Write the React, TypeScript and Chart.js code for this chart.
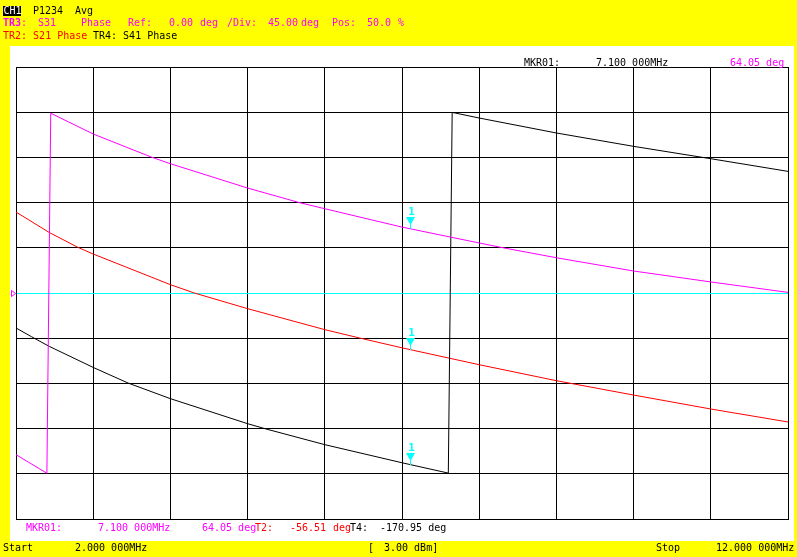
import React, { useEffect, useRef } from "react";
import { Chart, registerables } from "chart.js";

Chart.register(...registerables);

// ---- data ----
const FREQ_START = 2;
const FREQ_STOP = 12;
const PHASE_MIN = -225;
const PHASE_MAX = 225;
const PHASE_DIV = 45;

// TR3: S31 phase (magenta)
const S31_FREQ = [2.0, 2.4, 2.45, 3, 3.75, 4, 5, 5.67, 6, 7, 8, 8.31, 9, 10, 11, 12];
const S31_PHASE = [-161, -179.4, 179.0, 158.3, 135.4, 128.7, 104.5, 90.0, 83.9, 65.6, 49.8, 45.0, 35.1, 21.9, 11.0, 0.6];

// TR2: S21 phase (red)
const S21_FREQ = [2, 2.43, 2.8, 3, 4, 4.31, 5, 6, 6.45, 7, 8, 9, 10, 11, 12];
const S21_PHASE = [80.6, 60.3, 45.5, 38.8, 8.3, 0, -15.6, -36.5, -44.8, -54.6, -71.4, -87.3, -101.6, -115.5, -128.4];

// TR4: S41 phase (black)
const S41_FREQ = [2, 2.2, 2.43, 3, 3.45, 4, 5, 5.24, 6, 7, 7.6, 7.65, 8, 9, 10, 11, 12];
const S41_PHASE = [-34.8, -43.5, -53.1, -74.1, -89.6, -105.2, -130.1, -135.4, -151, -169, -179.3, 179.8, 174.2, 159.3, 146, 133.7, 121.1];

// marker 1
const MARKER_FREQ = 7.1;
const MARKER_VALUES = [64.05, -56.51, -170.95];
const REF_VALUE = 0;

const FONT = '"DejaVu Sans Mono", monospace';

function toXY(xs: number[], ys: number[]) {
  return xs.map((x, i) => ({ x, y: ys[i] }));
}

function Txt(props: { x: number; cy: number; color?: string; bold?: boolean; children: React.ReactNode }) {
  const { x, cy, color = "#000", bold = false, children } = props;
  return (
    <span
      style={{
        position: "absolute",
        left: x,
        top: cy - 5,
        font: `${bold ? "bold " : ""}10px ${FONT}`,
        lineHeight: "10px",
        color,
        whiteSpace: "pre",
      }}
    >
      {children}
    </span>
  );
}

const MAG = "#FF00FF";
const RED = "#FF0000";
const BLK = "#000000";
const CYAN = "#00FFFF";

export default function App() {
  const ref = useRef<HTMLCanvasElement | null>(null);

  useEffect(() => {
    if (!ref.current) return;
    const bgPlugin = {
      id: "bg",
      beforeDraw(chart: any) {
        const ctx = chart.ctx;
        ctx.save();
        ctx.fillStyle = "#FFFF00";
        ctx.fillRect(0, 0, chart.width, chart.height);
        ctx.fillStyle = "#FFFFFF";
        ctx.fillRect(10, 46, 784, 495);
        ctx.restore();
      },
    };
    const markerPlugin = {
      id: "markers",
      afterDatasetsDraw(chart: any) {
        const ctx = chart.ctx;
        const xs = chart.scales.x;
        const ys = chart.scales.y;
        ctx.save();
        const px = Math.round(xs.getPixelForValue(MARKER_FREQ)) + 0.5;
        MARKER_VALUES.forEach((v) => {
          const py = Math.round(ys.getPixelForValue(v));
          ctx.strokeStyle = CYAN;
          ctx.fillStyle = CYAN;
          ctx.lineWidth = 1;
          ctx.beginPath();
          ctx.moveTo(px, py - 5);
          ctx.lineTo(px, py);
          ctx.stroke();
          ctx.beginPath();
          ctx.moveTo(px - 4.5, py - 12);
          ctx.lineTo(px + 4.5, py - 12);
          ctx.lineTo(px, py - 4);
          ctx.closePath();
          ctx.fill();
          ctx.font = `bold 11px ${FONT}`;
          ctx.textAlign = "center";
          ctx.textBaseline = "alphabetic";
          ctx.fillText("1", px + 1, py - 14);
        });
        // reference position marker (left)
        const ry = Math.round(ys.getPixelForValue(REF_VALUE)) + 0.5;
        ctx.strokeStyle = MAG;
        ctx.beginPath();
        ctx.moveTo(11.5, ry - 3);
        ctx.lineTo(15.5, ry);
        ctx.lineTo(11.5, ry + 3);
        ctx.closePath();
        ctx.stroke();
        ctx.restore();
      },
    };
    const chart = new Chart(ref.current, {
      type: "line",
      data: {
        datasets: [
          { label: "S31", data: toXY(S31_FREQ, S31_PHASE), borderColor: MAG, borderWidth: 1, pointRadius: 0, tension: 0, fill: false },
          { label: "S41", data: toXY(S41_FREQ, S41_PHASE), borderColor: BLK, borderWidth: 1, pointRadius: 0, tension: 0, fill: false },
          { label: "S21", data: toXY(S21_FREQ, S21_PHASE), borderColor: RED, borderWidth: 1, pointRadius: 0, tension: 0, fill: false },
        ],
      },
      options: {
        animation: false,
        responsive: false,
        maintainAspectRatio: false,
        events: [],
        layout: { padding: { left: 16, top: 67, right: 9, bottom: 38 } },
        plugins: { legend: { display: false }, tooltip: { enabled: false }, title: { display: false } },
        scales: {
          x: {
            type: "linear",
            min: FREQ_START,
            max: FREQ_STOP,
            ticks: { display: false, stepSize: 1 },
            grid: { color: BLK, lineWidth: 1, drawTicks: false },
            border: { display: true, color: BLK, width: 1 },
          },
          y: {
            type: "linear",
            min: PHASE_MIN,
            max: PHASE_MAX,
            ticks: { display: false, stepSize: PHASE_DIV },
            grid: {
              color: (c: any) => (c.tick && c.tick.value === REF_VALUE ? CYAN : BLK),
              lineWidth: 1,
              drawTicks: false,
            },
            border: { display: true, color: BLK, width: 1 },
          },
        },
      },
      plugins: [bgPlugin, markerPlugin],
    });
    return () => chart.destroy();
  }, []);

  return (
    <div style={{ position: "absolute", left: 0, top: 0, width: 797, height: 557, background: "#FFFF00", overflow: "hidden" }}>
      <canvas ref={ref} width={797} height={557} style={{ position: "absolute", left: 0, top: 0, width: 797, height: 557 }} />
      {/* header line 1 */}
      <div style={{ position: "absolute", left: 3, top: 6, width: 18, height: 10, background: "#000" }} />
      <Txt x={3.5} cy={10.8} color="#FFF">CH1</Txt>
      <Txt x={33} cy={10.8}>P1234</Txt>
      <Txt x={75} cy={10.8}>Avg</Txt>
      {/* header line 2 */}
      <Txt x={3} cy={23.3} color={MAG} bold>TR3</Txt>
      <Txt x={21} cy={23.3} color={MAG}>:</Txt>
      <Txt x={38} cy={23.3} color={MAG}>S31</Txt>
      <Txt x={81} cy={23.3} color={MAG}>Phase</Txt>
      <Txt x={128} cy={23.3} color={MAG}>Ref:</Txt>
      <Txt x={169} cy={23.3} color={MAG}>0.00</Txt>
      <Txt x={200} cy={23.3} color={MAG}>deg</Txt>
      <Txt x={227} cy={23.3} color={MAG}>/Div:</Txt>
      <Txt x={268} cy={23.3} color={MAG}>45.00</Txt>
      <Txt x={301} cy={23.3} color={MAG}>deg</Txt>
      <Txt x={332} cy={23.3} color={MAG}>Pos:</Txt>
      <Txt x={367} cy={23.3} color={MAG}>50.0</Txt>
      <Txt x={398} cy={23.3} color={MAG}>%</Txt>
      {/* header line 3 */}
      <Txt x={3} cy={36} color={RED}>TR2: S21 Phase</Txt>
      <Txt x={93} cy={36}>TR4: S41 Phase</Txt>
      {/* marker readout top */}
      <Txt x={524} cy={62.7}>MKR01:</Txt>
      <Txt x={596} cy={62.7}>7.100 000MHz</Txt>
      <Txt x={730} cy={62.7} color={MAG}>64.05 deg</Txt>
      {/* marker readout bottom */}
      <Txt x={26} cy={528.3} color={MAG}>MKR01:</Txt>
      <Txt x={98} cy={528.3} color={MAG}>7.100 000MHz</Txt>
      <Txt x={202} cy={528.3} color={MAG}>64.05 deg</Txt>
      <Txt x={255} cy={528.3} color={RED}>T2:</Txt>
      <Txt x={290} cy={528.3} color={RED}>-56.51</Txt>
      <Txt x={333} cy={528.3} color={RED}>deg</Txt>
      <Txt x={350} cy={528.3}>T4:</Txt>
      <Txt x={380} cy={528.3}>-170.95 deg</Txt>
      {/* bottom bar */}
      <Txt x={3} cy={548.3}>Start</Txt>
      <Txt x={75} cy={548.3}>2.000 000MHz</Txt>
      <Txt x={368} cy={548.3}>[</Txt>
      <Txt x={384} cy={548.3}>3.00 dBm]</Txt>
      <Txt x={656} cy={548.3}>Stop</Txt>
      <Txt x={716} cy={548.3}>12.000 000MHz</Txt>
    </div>
  );
}
